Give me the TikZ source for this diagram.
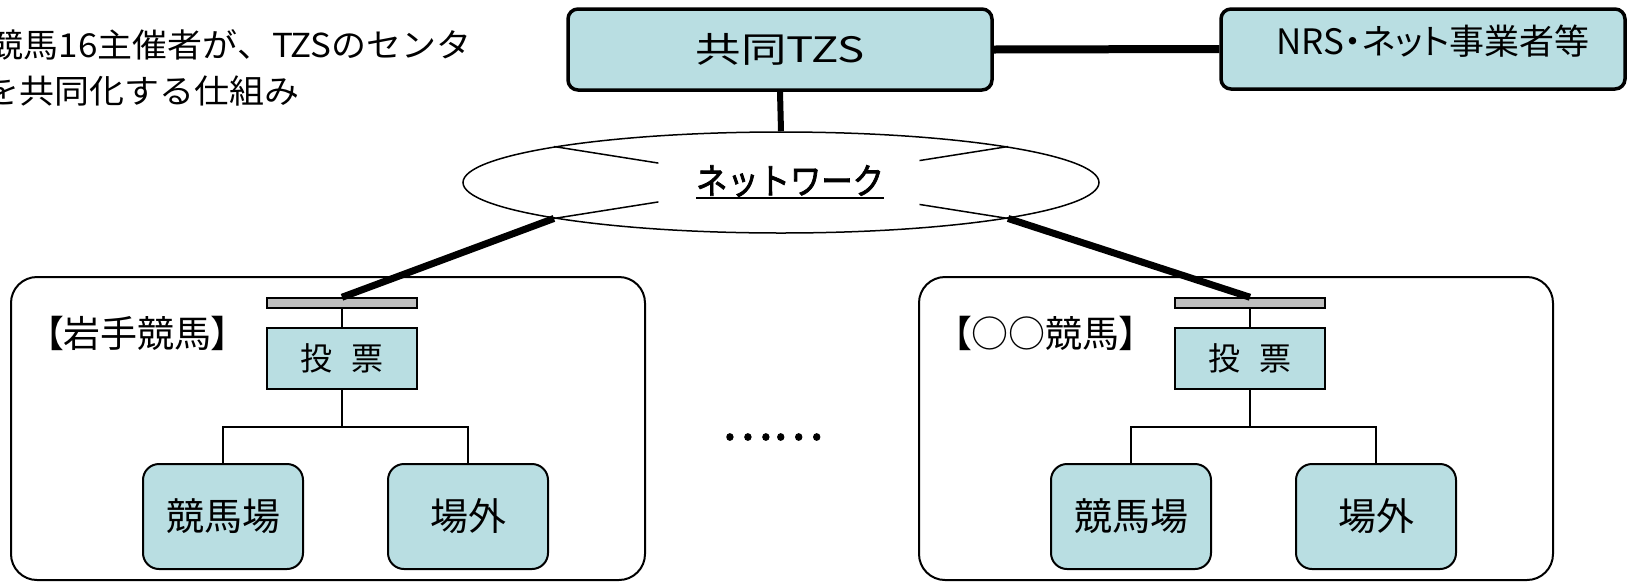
\documentclass[tikz,border=0pt]{standalone}
\usepackage{fontspec}
\setmainfont{Noto Sans CJK JP}
\newfontfamily\jpreg{Noto Sans CJK JP}
\newfontfamily\jpprop[RawFeature=+palt]{Noto Sans CJK JP}
\newfontfamily\jpnrs[RawFeature=+palt]{Noto Sans CJK JP}
\newfontfamily\jpleft[FakeStretch=1.06]{Noto Sans CJK JP}
\newfontfamily\jpwide[FakeStretch=1.3]{Noto Sans CJK JP}
\newfontfamily\jpnet[FakeStretch=0.87,FakeBold=2]{Noto Sans CJK JP}
\newfontfamily\jpdots[FakeBold=2]{Noto Sans CJK JP}
\newcommand\setfs[1]{\fontsize{#1}{#1}\selectfont}
\usetikzlibrary{shapes.geometric,calc}
\definecolor{boxblue}{RGB}{185,222,226}
\definecolor{bargray}{RGB}{191,191,191}
\tikzset{
  topbox/.style={draw, line width=3.5, fill=boxblue, rounded corners=10, inner sep=0},
  votebox/.style={draw, line width=2, fill=boxblue, inner sep=0, minimum width=150, minimum height=61},
  sitebox/.style={draw, line width=2, fill=boxblue, rounded corners=16, inner sep=0, minimum width=160, minimum height=105},
  region/.style={draw, line width=2, rounded corners=26, inner sep=0, minimum width=634, minimum height=303},
  gbar/.style={draw, line width=1.5, fill=bargray, inner sep=0, minimum width=150, minimum height=10},
  heavylink/.style={line width=7},
  thinlink/.style={line width=1.5},
  plain/.style={inner sep=0, outer sep=0}
}
\begin{document}
\begin{tikzpicture}[x=1pt,y=-1pt]
\useasboundingbox (0,0) rectangle (1628,582);
\clip (0,0) rectangle (1628,582);
\fill[white] (0,0) rectangle (1628,582);

% left description text (clipped at the left edge, as in the reference)
\node[plain, anchor=west] (desc1) at (-11,45) {\jpleft\setfs{33}競馬16主催者が、TZSのセンタ};
\node[plain, anchor=west] (desc2) at (-15,91) {\jpleft\setfs{33}を共同化する仕組み};

% top boxes
\node[topbox, minimum width=424, minimum height=81] (tzs) at (780,49.5) {\jpwide\setfs{35}共同TZS};
\node[topbox, minimum width=404, minimum height=80] (nrs) at (1423,49) {};
\node[plain] (nrstext) at (1433,41) {\jpnrs\setfs{35}NRS・ネット事業者等};
\draw[line width=8] (tzs.east) -- (nrs.west);

% network ellipse
\node[ellipse, draw, line width=1.5, inner sep=0, minimum width=636, minimum height=101] (net) at (781,182.5) {};
\draw[line width=6] (tzs.south) -- (net.north);
\node[plain] (nettext) at (790,181) {\jpnet\setfs{36}ネットワーク};
\draw[line width=2] ([yshift=-1.5pt]nettext.south west) -- ([yshift=-1.5pt]nettext.south east);
\draw[thinlink] (net.171) -- ($(net.171)!0.46!(net.center)$);
\draw[thinlink] (net.189) -- ($(net.189)!0.46!(net.center)$);
\draw[thinlink] (net.9) -- ($(net.9)!0.39!(net.center)$);
\draw[thinlink] (net.351) -- ($(net.351)!0.39!(net.center)$);

% regions
\node[region] (regA) at (328,428.5) {};
\node[region] (regB) at (1236,428.5) {};
\node[plain, anchor=west] (labA) at (45,333) {\jpprop\setfs{37}【岩手競馬】};
\node[plain, anchor=west] (labB) at (953,333) {\jpprop\setfs{37}【○○競馬】};

% left organisation
\node[gbar] (barA) at (342,303) {};
\node[votebox] (voteA) at (342,358.5) {\jpreg\setfs{32}投\hspace{0.6em}票};
\node[sitebox] (siteA1) at (223,516.5) {\jpreg\setfs{38}競馬場};
\node[sitebox] (siteA2) at (468,516.5) {\jpreg\setfs{38}場外};
\coordinate (jA) at ($(voteA.south)+(0,37)$);
\draw[thinlink] (barA.south) -- (voteA.north);
\draw[thinlink] (voteA.south) -- (jA);
\draw[thinlink] (siteA1.north) |- (jA) -| (siteA2.north);
\draw[heavylink] (net.189) -- (barA.north);

% right organisation
\node[gbar] (barB) at (1250,303) {};
\node[votebox] (voteB) at (1250,358.5) {\jpreg\setfs{32}投\hspace{0.6em}票};
\node[sitebox] (siteB1) at (1131,516.5) {\jpreg\setfs{38}競馬場};
\node[sitebox] (siteB2) at (1376,516.5) {\jpreg\setfs{38}場外};
\coordinate (jB) at ($(voteB.south)+(0,37)$);
\draw[thinlink] (barB.south) -- (voteB.north);
\draw[thinlink] (voteB.south) -- (jB);
\draw[thinlink] (siteB1.north) |- (jB) -| (siteB2.north);
\draw[heavylink] (net.351) -- (barB.north);

% ellipsis between the two organisations
\node[plain] (dots) at (772.5,437) {\jpdots\setfs{48}……};
\end{tikzpicture}
\end{document}
